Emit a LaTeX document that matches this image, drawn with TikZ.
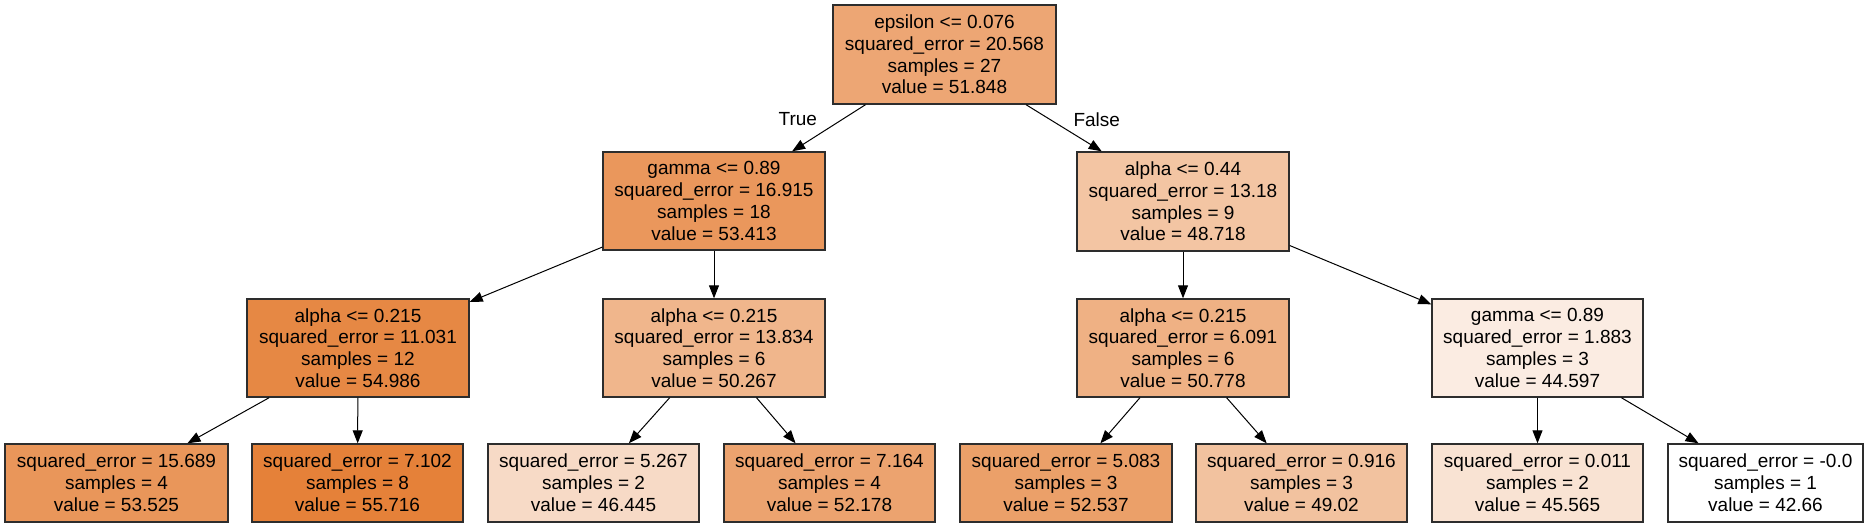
\documentclass[tikz,border=0pt]{standalone}
\usepackage{fontspec}
\setmainfont{Liberation Sans}
\usetikzlibrary{arrows.meta}
\definecolor{cRoot}{RGB}{237,166,116}
\definecolor{cG}{RGB}{234,151,92}
\definecolor{cR}{RGB}{243,197,163}
\definecolor{cA}{RGB}{230,136,68}
\definecolor{cB}{RGB}{240,182,140}
\definecolor{cC}{RGB}{239,177,132}
\definecolor{cD}{RGB}{251,236,226}
\definecolor{cLa}{RGB}{233,150,90}
\definecolor{cLb}{RGB}{229,129,57}
\definecolor{cLc}{RGB}{247,218,198}
\definecolor{cLd}{RGB}{236,163,111}
\definecolor{cLe}{RGB}{235,160,105}
\definecolor{cLf}{RGB}{242,194,159}
\definecolor{cLg}{RGB}{249,227,211}
\definecolor{cLh}{RGB}{255,255,255}
\definecolor{bordercol}{RGB}{45,45,45}
\tikzset{
  treebox/.style={draw=bordercol, line width=1.4pt, rectangle, inner sep=0pt,
    align=center, font=\fontsize{19}{21.8}\selectfont},
  splitbox/.style={treebox, minimum height=98pt},
  leafbox/.style={treebox, minimum height=78pt},
  treeedge/.style={line width=1pt, -{Triangle[length=13pt,width=10pt]}},
  edgelbl/.style={font=\fontsize{19}{21.8}\selectfont, inner sep=0pt}
}
\begin{document}
\begin{tikzpicture}[x=1pt,y=-1pt]
\useasboundingbox (0,0) rectangle (1869,527);
\node[splitbox, fill=cRoot, minimum width=223pt, minimum height=99pt] (root) at (944.5,54.5)
  {epsilon <= 0.076\\squared\_error = 20.568\\samples = 27\\value = 51.848};
\node[splitbox, fill=cG, minimum width=222pt] (g) at (714,201)
  {gamma <= 0.89\\squared\_error = 16.915\\samples = 18\\value = 53.413};
\node[splitbox, fill=cR, minimum width=212pt, minimum height=99pt] (r) at (1183,201.5)
  {alpha <= 0.44\\squared\_error = 13.18\\samples = 9\\value = 48.718};
\node[splitbox, fill=cA, minimum width=222pt] (a) at (358,348)
  {alpha <= 0.215\\squared\_error = 11.031\\samples = 12\\value = 54.986};
\node[splitbox, fill=cB, minimum width=222pt] (b) at (714,348)
  {alpha <= 0.215\\squared\_error = 13.834\\samples = 6\\value = 50.267};
\node[splitbox, fill=cC, minimum width=212pt] (c) at (1183,348)
  {alpha <= 0.215\\squared\_error = 6.091\\samples = 6\\value = 50.778};
\node[splitbox, fill=cD, minimum width=211pt] (d) at (1537.5,348)
  {gamma <= 0.89\\squared\_error = 1.883\\samples = 3\\value = 44.597};
\node[leafbox, fill=cLa, minimum width=223pt] (l1) at (116.5,483)
  {squared\_error = 15.689\\samples = 4\\value = 53.525};
\node[leafbox, fill=cLb, minimum width=211pt] (l2) at (357.5,483)
  {squared\_error = 7.102\\samples = 8\\value = 55.716};
\node[leafbox, fill=cLc, minimum width=211pt] (l3) at (593.5,483)
  {squared\_error = 5.267\\samples = 2\\value = 46.445};
\node[leafbox, fill=cLd, minimum width=211pt] (l4) at (829.5,483)
  {squared\_error = 7.164\\samples = 4\\value = 52.178};
\node[leafbox, fill=cLe, minimum width=212pt] (l5) at (1066,483)
  {squared\_error = 5.083\\samples = 3\\value = 52.537};
\node[leafbox, fill=cLf, minimum width=211pt] (l6) at (1301.5,483)
  {squared\_error = 0.916\\samples = 3\\value = 49.02};
\node[leafbox, fill=cLg, minimum width=211pt] (l7) at (1537.5,483)
  {squared\_error = 0.011\\samples = 2\\value = 45.565};
\node[leafbox, fill=cLh, minimum width=195pt] (l8) at (1765.5,483)
  {squared\_error = -0.0\\samples = 1\\value = 42.66};
\draw[treeedge] (root) -- node[edgelbl, pos=0.3, anchor=east, xshift=-26pt] {True} (g);
\draw[treeedge] (root) -- node[edgelbl, pos=0.33, anchor=west, xshift=22pt] {False} (r);
\draw[treeedge] (g) -- (a);
\draw[treeedge] (g) -- (b);
\draw[treeedge] (r) -- (c);
\draw[treeedge] (r) -- (d);
\draw[treeedge] (a) -- (l1);
\draw[treeedge] (a) -- (l2);
\draw[treeedge] (b) -- (l3);
\draw[treeedge] (b) -- (l4);
\draw[treeedge] (c) -- (l5);
\draw[treeedge] (c) -- (l6);
\draw[treeedge] (d) -- (l7);
\draw[treeedge] (d) -- (l8);
\end{tikzpicture}
\end{document}
